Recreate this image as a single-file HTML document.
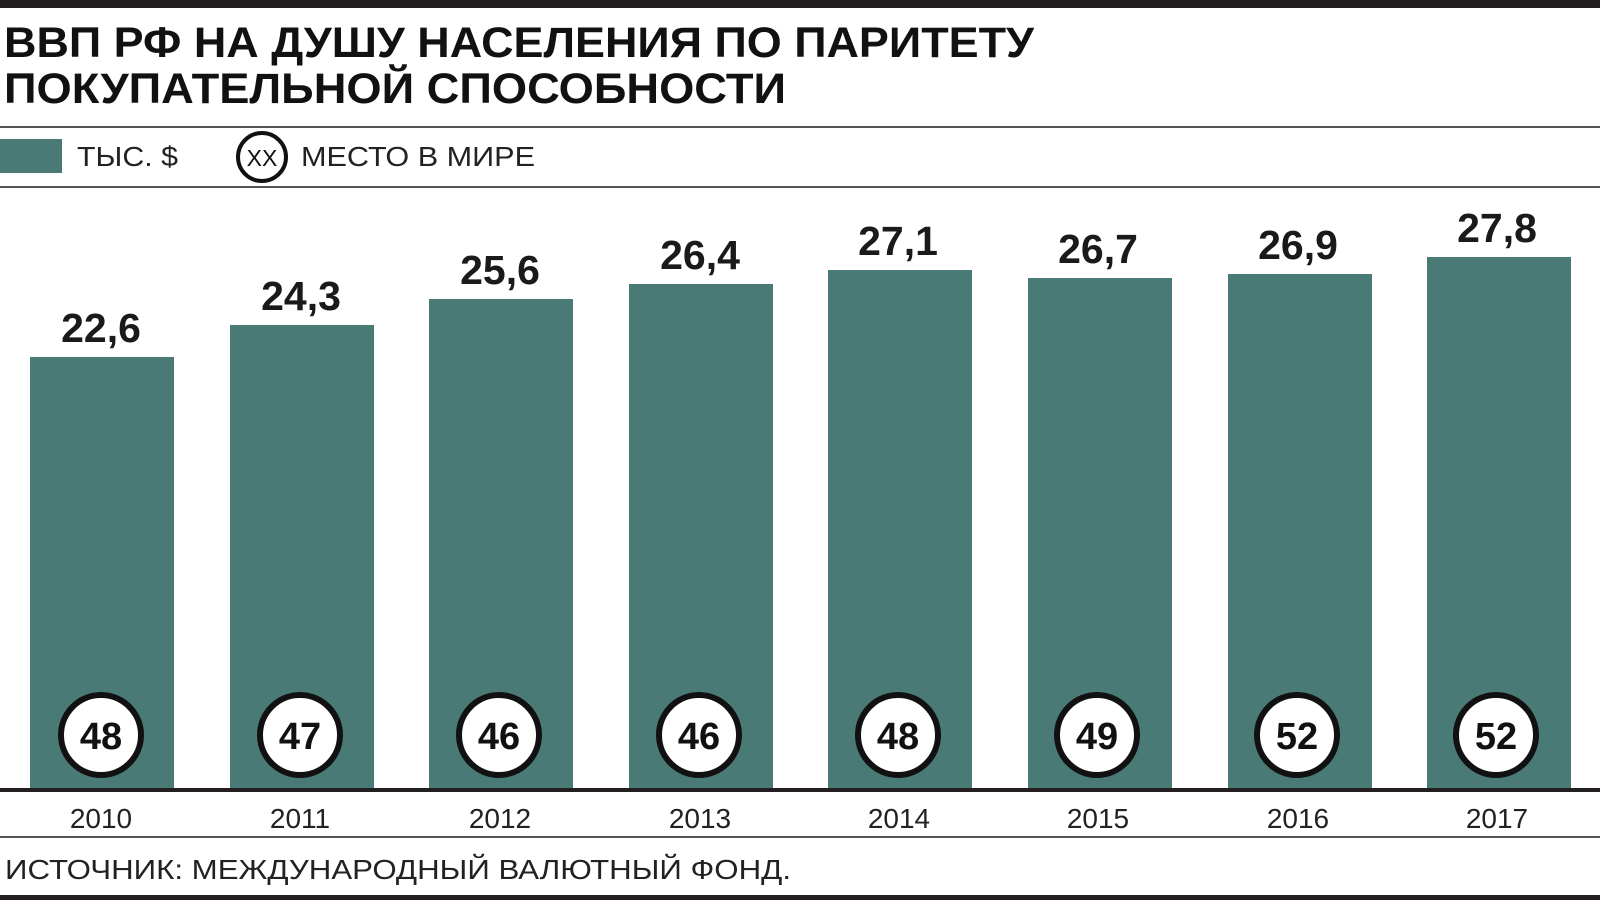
<!DOCTYPE html>
<html><head><meta charset="utf-8"><style>
body{margin:0;width:1600px;height:900px;background:#fff;overflow:hidden;font-family:"Liberation Sans",sans-serif}
</style></head><body>
<svg width="1600" height="900" xmlns="http://www.w3.org/2000/svg" font-family="Liberation Sans, sans-serif">
<rect x="0" y="0" width="1600" height="8" fill="#231f20"/>
<text x="4" y="57" font-size="43" font-weight="bold" fill="#111" textLength="1030" lengthAdjust="spacingAndGlyphs">ВВП РФ НА ДУШУ НАСЕЛЕНИЯ ПО ПАРИТЕТУ</text>
<text x="4" y="103" font-size="43" font-weight="bold" fill="#111" textLength="782" lengthAdjust="spacingAndGlyphs">ПОКУПАТЕЛЬНОЙ СПОСОБНОСТИ</text>
<rect x="0" y="126" width="1600" height="2" fill="#555"/>
<rect x="0" y="139" width="62" height="34" fill="#4a7a76"/>
<text x="77" y="166" font-size="28" fill="#222" textLength="101" lengthAdjust="spacingAndGlyphs">ТЫС. $</text>
<circle cx="262" cy="157" r="24" fill="#fff" stroke="#111" stroke-width="4"/>
<text x="262" y="166" font-size="23" fill="#111" text-anchor="middle">XX</text>
<text x="301" y="166" font-size="28" fill="#222" textLength="234" lengthAdjust="spacingAndGlyphs">МЕСТО В МИРЕ</text>
<rect x="0" y="186" width="1600" height="2" fill="#555"/>
<g fill="#4a7a76">
<rect x="30" y="357" width="144" height="433"/>
<rect x="230" y="325" width="144" height="465"/>
<rect x="429" y="299" width="144" height="491"/>
<rect x="629" y="284" width="144" height="506"/>
<rect x="828" y="270" width="144" height="520"/>
<rect x="1028" y="278" width="144" height="512"/>
<rect x="1228" y="274" width="144" height="516"/>
<rect x="1427" y="257" width="144" height="533"/>
</g>
<g font-size="41" font-weight="bold" fill="#1a1a1a" text-anchor="middle">
<text x="101" y="342">22,6</text>
<text x="301" y="310">24,3</text>
<text x="500" y="284">25,6</text>
<text x="700" y="269">26,4</text>
<text x="898" y="255">27,1</text>
<text x="1098" y="263">26,7</text>
<text x="1298" y="259">26,9</text>
<text x="1497" y="242">27,8</text>
</g>
<g fill="#fff" stroke="#111" stroke-width="6">
<circle cx="101" cy="735" r="40"/><circle cx="300" cy="735" r="40"/><circle cx="499" cy="735" r="40"/><circle cx="699" cy="735" r="40"/><circle cx="898" cy="735" r="40"/><circle cx="1097" cy="735" r="40"/><circle cx="1297" cy="735" r="40"/><circle cx="1496" cy="735" r="40"/>
</g>
<g font-size="38" font-weight="bold" fill="#111" text-anchor="middle">
<text x="101" y="749">48</text><text x="300" y="749">47</text><text x="499" y="749">46</text><text x="699" y="749">46</text><text x="898" y="749">48</text><text x="1097" y="749">49</text><text x="1297" y="749">52</text><text x="1496" y="749">52</text>
</g>
<rect x="0" y="788" width="1600" height="4" fill="#231f20"/>
<g font-size="28" fill="#222" text-anchor="middle">
<text x="101" y="828">2010</text><text x="300" y="828">2011</text><text x="500" y="828">2012</text><text x="700" y="828">2013</text><text x="899" y="828">2014</text><text x="1098" y="828">2015</text><text x="1298" y="828">2016</text><text x="1497" y="828">2017</text>
</g>
<rect x="0" y="836" width="1600" height="2" fill="#555"/>
<text x="5" y="879" font-size="28" fill="#222" textLength="786" lengthAdjust="spacingAndGlyphs">ИСТОЧНИК: МЕЖДУНАРОДНЫЙ ВАЛЮТНЫЙ ФОНД.</text>
<rect x="0" y="895" width="1600" height="5" fill="#231f20"/>
</svg>
</body></html>
